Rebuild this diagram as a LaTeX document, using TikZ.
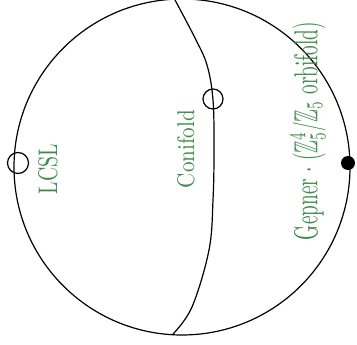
\documentclass[tikz,border=0pt]{standalone}
\usepackage{amssymb}
\definecolor{pen}{RGB}{62,138,72}
\begin{document}
\begin{tikzpicture}[x=1pt,y=-1pt,
  line/.style={line width=1.2pt,black},
  lab/.style={rotate=90,text=pen,inner sep=0pt}]
\useasboundingbox (0,0) rectangle (357,345);
\draw[line] (182,167) circle[radius=168];
% conifold locus curve
\draw[line] plot[smooth,tension=0.6] coordinates {(175,0) (195,38) (207,65) (213,100) (214,150) (213,200) (209,250) (192,307) (173,334)};
% special points
\node[line,draw,circle,minimum size=21pt,inner sep=0pt] (lcsl) at (18,163) {};
\node[line,draw,circle,minimum size=20pt,inner sep=0pt] (con) at (213,99) {};
\node[fill=black,circle,minimum size=14pt,inner sep=0pt] (gep) at (348,163) {};
% labels
\node[lab] (tl) at (48,169) {\resizebox{50pt}{19pt}{LCSL}};
\node[lab] (tc) at (186,149) {\resizebox{78pt}{17pt}{Conifold}};
\node[lab] (tg) at (308,131) {\resizebox{218pt}{27pt}{Gepner $\cdot$ ($\mathbb{Z}_5^4/\mathbb{Z}_5$ orbifold)}};
\end{tikzpicture}
\end{document}
